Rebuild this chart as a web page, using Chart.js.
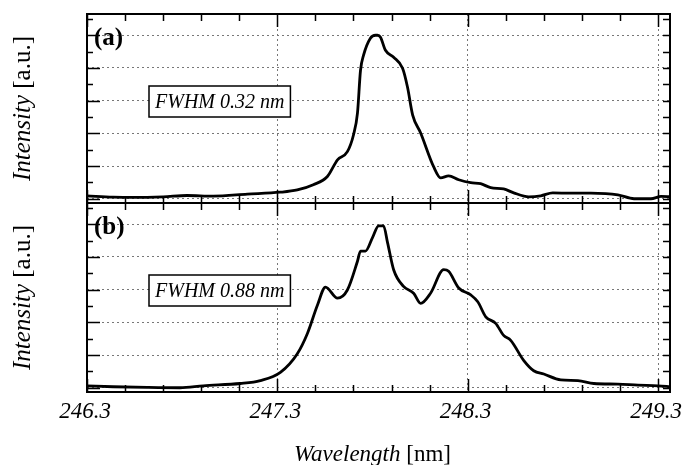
<!DOCTYPE html>
<html>
<head>
<meta charset="utf-8">
<script src="https://cdn.jsdelivr.net/npm/chart.js@4/dist/chart.umd.min.js"></script>
<style>
  html, body { margin: 0; padding: 0; background: #fff; }
  #wrap { position: relative; width: 682px; height: 465px; overflow: hidden; }
  #chartA { position: absolute; left: 0; top: 0; }
  #chartB { position: absolute; left: 0; top: 196px; }
</style>
</head>
<body>
<div id="wrap">
  <canvas id="chartA" width="682" height="210"></canvas>
  <canvas id="chartB" width="682" height="269"></canvas>
</div>
<script>
// panel (a) spectrum
const wavelengthA = [246.300, 246.437, 246.542, 246.700, 246.826, 246.963, 247.142, 247.316, 247.405, 247.489,
  247.563, 247.616, 247.668, 247.700, 247.721, 247.737, 247.753, 247.789, 247.816, 247.826, 247.842, 247.868,
  247.911, 247.958, 247.984, 248.011, 248.053, 248.121, 248.158, 248.200, 248.253, 248.316, 248.368, 248.421,
  248.489, 248.542, 248.621, 248.684, 248.747, 248.842, 248.947, 249.089, 249.174, 249.263, 249.316, 249.368];
const intensityA = [0.09, 0.05, 0.04, 0.06, 0.10, 0.08, 0.14, 0.20, 0.27, 0.43,
  0.68, 1.19, 1.44, 1.95, 2.62, 3.93, 4.39, 4.91, 5.00, 5.00, 4.94, 4.54,
  4.33, 3.99, 3.41, 2.56, 2.01, 0.98, 0.64, 0.70, 0.58, 0.49, 0.46, 0.34,
  0.30, 0.18, 0.06, 0.09, 0.18, 0.17, 0.17, 0.12, 0.00, 0.00, 0.07, 0.06];

// panel (b) spectrum
const wavelengthB = [246.300, 246.437, 246.616, 246.789, 246.911, 247.105, 247.211, 247.316, 247.405, 247.458,
  247.511, 247.553, 247.616, 247.668, 247.721, 247.737, 247.763, 247.800, 247.832, 247.858, 247.879, 247.911,
  247.963, 248.016, 248.053, 248.105, 248.174, 248.200, 248.253, 248.316, 248.353, 248.395, 248.447, 248.489,
  248.526, 248.595, 248.647, 248.700, 248.789, 248.879, 248.963, 249.089, 249.195, 249.300, 249.368];
const intensityB = [0.06, 0.03, 0.01, 0.00, 0.06, 0.13, 0.22, 0.47, 1.04, 1.66,
  2.53, 3.08, 2.74, 2.99, 3.87, 4.18, 4.18, 4.59, 4.95, 4.95, 4.44, 3.61,
  3.10, 2.89, 2.58, 2.89, 3.61, 3.56, 3.05, 2.84, 2.63, 2.17, 1.97, 1.60,
  1.45, 0.83, 0.52, 0.42, 0.24, 0.22, 0.13, 0.11, 0.08, 0.06, 0.03];

const xTickLabels = [246.3, 247.3, 248.3, 249.3];
const yGridValues = [0, 1, 2, 3, 4, 5];
const panelLabels = ["(a)", "(b)"];
const fwhmLabels = ["FWHM 0.32 nm", "FWHM 0.88 nm"];

const X_MIN = 246.3, X_MAX = 249.363;
const Y_MIN = -0.13, Y_MAX = 5.65;
const SERIF = "'Liberation Serif', 'DejaVu Serif', serif";

function toPoints(xs, ys) {
  return xs.map((x, i) => ({ x: x, y: ys[i] }));
}

// inward ticks, frame, labels and axis titles
const decorPlugin = {
  id: "decor",
  afterDraw(chart, args, opts) {
    const ctx = chart.ctx;
    const a = chart.chartArea;
    const xs = chart.scales.x;
    const ys = chart.scales.y;
    ctx.save();
    ctx.strokeStyle = "#000";
    ctx.fillStyle = "#000";

    // x ticks every 0.2 nm, top and bottom, pointing inside
    ctx.lineWidth = 1.5;
    for (let k = 0; k <= 15; k++) {
      const v = X_MIN + k * 0.2;
      const px = Math.round(xs.getPixelForValue(v)) + 0.5;
      const major = k % 5 === 0;
      const len = major ? 13 : 7;
      ctx.beginPath();
      ctx.moveTo(px, a.top);
      ctx.lineTo(px, a.top + len);
      ctx.moveTo(px, a.bottom);
      ctx.lineTo(px, a.bottom - len);
      ctx.stroke();
    }
    // y ticks every 0.5
    for (let k = 0; k <= 11; k++) {
      const v = k * 0.5;
      const py = Math.round(ys.getPixelForValue(v)) + 0.5;
      const major = k % 2 === 0;
      ctx.beginPath();
      ctx.moveTo(a.left, py);
      ctx.lineTo(a.left + (major ? 13 : 6), py);
      ctx.moveTo(a.right, py);
      ctx.lineTo(a.right - 7, py);
      ctx.stroke();
    }

    // frame
    ctx.lineWidth = 2;
    ctx.strokeRect(a.left, a.top, a.right - a.left, a.bottom - a.top);

    // panel letter
    ctx.font = "bold 25px " + SERIF;
    ctx.textBaseline = "middle";
    ctx.textAlign = "left";
    ctx.fillText(opts.label, a.left + 7, a.top + 25);

    // FWHM box
    ctx.font = "italic 20px " + SERIF;
    const tw = ctx.measureText(opts.fwhm).width;
    const bx = a.left + 62, by = a.top + 72, bw = tw + 12, bh = 31;
    ctx.fillStyle = "#fff";
    ctx.fillRect(bx, by, bw, bh);
    ctx.lineWidth = 1.5;
    ctx.strokeRect(bx, by, bw, bh);
    ctx.fillStyle = "#000";
    ctx.fillText(opts.fwhm, bx + 6, by + bh / 2 + 1);

    // y title: "Intensity" italic + " [a.u.]" upright
    const f1 = "italic 25px " + SERIF, f2 = "25px " + SERIF;
    ctx.font = f1;
    const w1 = ctx.measureText("Intensity").width;
    ctx.font = f2;
    const w2 = ctx.measureText(" [a.u.]").width;
    ctx.save();
    ctx.translate(30, (a.top + a.bottom) / 2);
    ctx.rotate(-Math.PI / 2);
    ctx.textBaseline = "alphabetic";
    ctx.font = f1;
    ctx.fillText("Intensity", -(w1 + w2) / 2, 0);
    ctx.font = f2;
    ctx.fillText(" [a.u.]", -(w1 + w2) / 2 + w1, 0);
    ctx.restore();

    // x title
    if (opts.xTitle) {
      const g1 = "italic 23px " + SERIF, g2 = "23px " + SERIF;
      ctx.font = g1;
      const t1 = ctx.measureText("Wavelength").width;
      ctx.font = g2;
      const t2 = ctx.measureText(" [nm]").width;
      const cx = (a.left + a.right) / 2 - 6;
      const y = chart.height - 4;
      ctx.textBaseline = "alphabetic";
      ctx.font = g1;
      ctx.fillText("Wavelength", cx - (t1 + t2) / 2, y);
      ctx.font = g2;
      ctx.fillText(" [nm]", cx - (t1 + t2) / 2 + t1, y);
    }
    ctx.restore();
  }
};

function makePanel(canvasId, xs, ys, idx, showX, pad) {
  return new Chart(document.getElementById(canvasId), {
    type: "line",
    data: {
      datasets: [{
        data: toPoints(xs, ys),
        borderColor: "#000",
        borderWidth: 2.8,
        pointRadius: 0,
        cubicInterpolationMode: "monotone",
        fill: false
      }]
    },
    options: {
      responsive: false,
      animation: false,
      events: [],
      layout: { padding: pad, autoPadding: false },
      plugins: {
        legend: { display: false },
        tooltip: { enabled: false },
        decor: { label: panelLabels[idx], fwhm: fwhmLabels[idx], xTitle: showX }
      },
      scales: {
        x: {
          type: "linear",
          min: X_MIN,
          max: X_MAX,
          afterBuildTicks: (s) => { s.ticks = xTickLabels.map((v) => ({ value: v })); },
          afterFit: (s) => {
            s.height = showX ? 73 : 0;
            s.paddingLeft = 0;
            s.paddingRight = 0;
          },
          grid: { color: "#777", lineWidth: 1, drawTicks: false },
          border: { display: false, dash: [2, 3] },
          ticks: {
            display: showX,
            padding: 6,
            labelOffset: -2,
            maxRotation: 0,
            autoSkip: false,
            color: "#000",
            font: { family: SERIF, size: 23, style: "italic" },
            callback: (v) => v.toFixed(1)
          }
        },
        y: {
          min: Y_MIN,
          max: Y_MAX,
          afterBuildTicks: (s) => { s.ticks = yGridValues.map((v) => ({ value: v })); },
          afterFit: (s) => { s.width = 0; },
          grid: { color: "#777", lineWidth: 1, drawTicks: false },
          border: { display: false, dash: [2, 3] },
          ticks: { display: false }
        }
      }
    },
    plugins: [decorPlugin]
  });
}

makePanel("chartA", wavelengthA, intensityA, 0, false, { top: 14, bottom: 7, left: 87, right: 12 });
makePanel("chartB", wavelengthB, intensityB, 1, true, { top: 7, bottom: 0, left: 87, right: 12 });
</script>
</body>
</html>
